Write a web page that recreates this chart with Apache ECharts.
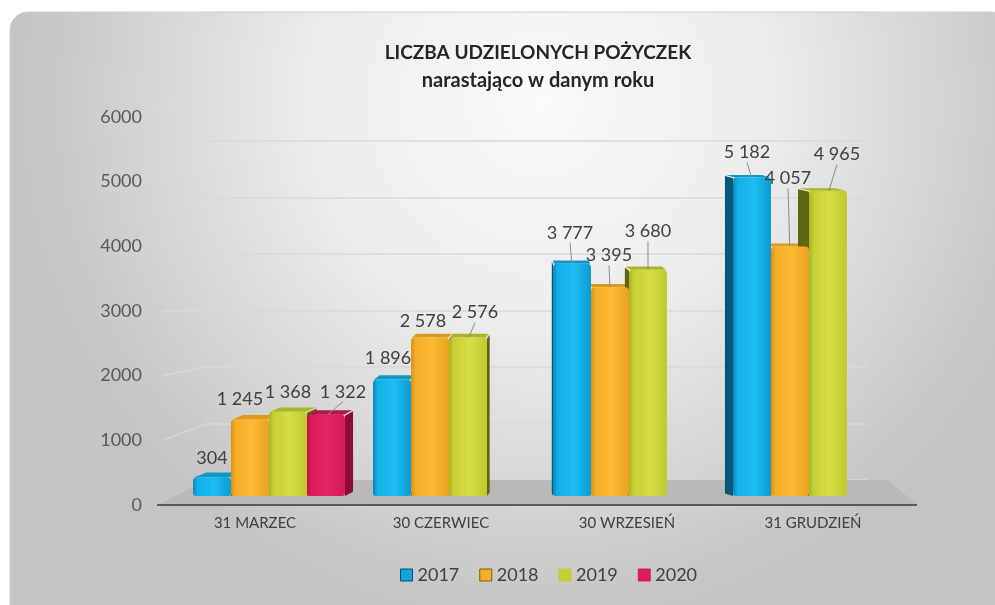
<!DOCTYPE html>
<html>
<head>
<meta charset="utf-8">
<script src="https://cdn.jsdelivr.net/npm/echarts@6/dist/echarts.min.js"></script>
<style>
  html, body { margin: 0; padding: 0; background: #fff; }
  #chart { width: 995px; height: 605px; }
</style>
</head>
<body>
<div id="chart"></div>
<script>
// dane
const categories = ['31 MARZEC', '30 CZERWIEC', '30 WRZESIEŃ', '31 GRUDZIEŃ'];
const years = ['2017', '2018', '2019', '2020'];
const v2017 = [304, 1896, 3777, 5182];
const v2018 = [1245, 2578, 3395, 4057];
const v2019 = [1368, 2576, 3680, 4965];
const v2020 = [1322, null, null, null];
const yMax = 6000;
const yStep = 1000;

// przesunięcia etykiet wzgledem wierzchu słupka [dx, dy]
const labelShift = [
  [[0, -19], [-4, -21], [-2, -31], [-5, -25]],
  [[-10, -20], [-7, -16], [-1, -32], [-2, -68]],
  [[0, -20], [7, -25], [0, -38], [9, -36]],
  [[17, -23], [0, 0], [0, 0], [0, 0]]
];

// kolory: przód (gradient), bok, góra
const colors = [
  { front: ['#0985bb', '#12b0e8', '#1cbdf2', '#0a9bd2'], side: '#075878', top: '#1296c8', legend: '#0fa6de', border: '#0a4f70' },
  { front: ['#d99114', '#f4ad24', '#fcb934', '#eba21e'], side: '#a87410', top: '#dc9a1a', legend: '#f5ae26', border: '#7a5a10' },
  { front: ['#aab325', '#c6ce33', '#d6de45', '#c0c830'], side: '#5f6512', top: '#aab424', legend: '#c5cd34', border: '#c5cd34' },
  { front: ['#c0124c', '#dc1b5c', '#e32463', '#d61957'], side: '#8c0c36', top: '#b8134b', legend: '#dc1b5c', border: '#dc1b5c' }
];

function fmt(v) {
  return String(v).replace(/\B(?=(\d{3})+(?!\d))/g, ' ');
}

function makeRender(si) {
  return function (params, api) {
    var ci = api.value(0), v = api.value(1);
    var cs = params.coordSys;
    var top = api.coord([ci, v]);
    var base = api.coord([ci, 0]);
    var bw = api.size([1, 0])[0] * 0.211;
    var x0 = top[0] - 2 * bw + si * bw;
    var cx = x0 + bw / 2;
    var vp = cs.x + cs.width * 0.5;
    var d = (vp - cx) * 0.038;            // głębokość w poziomie
    var dy = -(5 - 3 * v / yMax);         // głębokość w pionie
    var ex = d > 0 ? x0 + bw : x0;
    var c = colors[si];
    var sh = labelShift[si][ci];
    var children = [
      {
        type: 'polygon', z2: 1,
        shape: { points: [[ex, top[1] + 1], [ex + d, top[1] + dy + 1], [ex + d, base[1] + dy], [ex, base[1]]] },
        style: { fill: c.side }
      },
      {
        type: 'polygon', z2: 1,
        shape: { points: [[x0 + 1, top[1]], [x0 + bw - 1, top[1]], [x0 + bw + d - 1, top[1] + dy], [x0 + d + 1, top[1] + dy]] },
        style: { fill: c.top }
      },
      {
        type: 'rect', z2: 2,
        shape: { x: x0, y: top[1], width: bw, height: base[1] - top[1], r: [4, 4, 3, 3] },
        style: {
          fill: new echarts.graphic.LinearGradient(0, 0, 1, 0, [
            { offset: 0, color: c.front[0] },
            { offset: 0.12, color: c.front[1] },
            { offset: 0.55, color: c.front[2] },
            { offset: 1, color: c.front[3] }
          ])
        }
      }
    ];
    if (sh[1] <= -23) {
      children.push({
        type: 'line', z2: 4,
        shape: { x1: cx + sh[0] * 0.1, y1: top[1], x2: cx + sh[0], y2: top[1] + sh[1] + 10 },
        style: { stroke: '#8c8c8c', lineWidth: 1 }
      });
    }
    children.push({
      type: 'text', z2: 5,
      style: {
        text: fmt(v), x: cx + sh[0], y: top[1] + sh[1],
        align: 'center', verticalAlign: 'middle',
        font: '18px Lato', fill: '#404040'
      }
    });
    return { type: 'group', children: children };
  };
}

var chart = echarts.init(document.getElementById('chart'));

var seriesValues = [v2017, v2018, v2019, v2020];
var series = seriesValues.map(function (vals, si) {
  return {
    name: years[si],
    type: 'custom',
    xAxisIndex: 1,
    yAxisIndex: 1,
    renderItem: makeRender(si),
    clip: false,
    z: 3,
    itemStyle: { color: colors[si].legend },
    encode: { x: 0, y: 1 },
    data: vals.map(function (v, i) { return v == null ? null : [i, v]; })
      .filter(function (d) { return d != null; })
  };
});

var option = {
  animation: false,
  backgroundColor: '#ffffff',
  title: {
    text: '{a|LICZBA UDZIELONYCH POŻYCZEK}\n{b|narastająco w danym roku}',
    left: 533,
    textAlign: 'center',
    top: 34,
    textStyle: {
      rich: {
        a: { fontFamily: 'Lato', fontWeight: 'bold', fontSize: 19, color: '#262626', lineHeight: 28 },
        b: { fontFamily: 'Lato', fontWeight: 'bold', fontSize: 20, color: '#262626', lineHeight: 28 }
      }
    }
  },
  legend: {
    left: 395,
    top: 561,
    icon: 'rect',
    itemWidth: 12,
    itemHeight: 12,
    itemGap: 20,
    textStyle: { fontFamily: 'Lato', fontSize: 18, color: '#404040' },
    data: years.map(function (y, i) {
      return { name: y, itemStyle: { color: colors[i].legend, borderColor: colors[i].border, borderWidth: 1 } };
    })
  },
  grid: [
    { left: 162, right: 89, top: 117, bottom: 100 },   // etykiety (przód)
    { left: 179, right: 96, top: 127, bottom: 109 },   // słupki
    { left: 207, right: 127, top: 141, bottom: 125 }   // tylna ściana
  ],
  xAxis: [
    {
      gridIndex: 0, type: 'category', data: categories,
      axisLine: { show: false }, axisTick: { show: false },
      axisLabel: { margin: 11, fontFamily: 'Lato', fontSize: 15, color: '#404040' }
    },
    { gridIndex: 1, type: 'category', data: categories, show: false },
    { gridIndex: 2, type: 'category', data: categories, show: false }
  ],
  yAxis: [
    {
      gridIndex: 0, type: 'value', min: 0, max: yMax, interval: yStep,
      axisLine: { show: false }, axisTick: { show: false }, splitLine: { show: false },
      axisLabel: { margin: 20, fontFamily: 'Lato', fontSize: 18, color: '#595959', formatter: function (v) { return String(v); } }
    },
    { gridIndex: 1, type: 'value', min: 0, max: yMax, interval: yStep, show: false },
    {
      gridIndex: 2, type: 'value', min: 0, max: yMax, interval: yStep,
      axisLine: { show: false }, axisTick: { show: false }, axisLabel: { show: false },
      splitLine: { show: true, lineStyle: { color: '#d9d9d9', width: 1.5 } }
    }
  ],
  series: series
};

chart.setOption(option);

// tło, podłoga i skośne linie siatki
var graphics = [{
  type: 'rect', z: -10,
  shape: { x: 10, y: 12, width: 1000, height: 610, r: 18 },
  style: {
    fill: new echarts.graphic.RadialGradient(0.53, 0.15, 0.85, [
      { offset: 0, color: '#fbfbfb' },
      { offset: 0.45, color: '#ebebeb' },
      { offset: 1, color: '#c4c4c4' }
    ]),
    stroke: '#cfcfcf', lineWidth: 1
  }
}];
var frontY0 = chart.convertToPixel({ yAxisIndex: 0 }, 0);
var backY0 = chart.convertToPixel({ yAxisIndex: 2 }, 0);
for (var t = yStep; t <= yMax; t += yStep) {
  graphics.push({
    type: 'line', z: 0,
    shape: {
      x1: 162, y1: chart.convertToPixel({ yAxisIndex: 0 }, t),
      x2: 207, y2: chart.convertToPixel({ yAxisIndex: 2 }, t)
    },
    style: { stroke: '#d9d9d9', lineWidth: 1.5 }
  });
}
graphics.push({
  type: 'polygon', z: 1,
  shape: { points: [[157, frontY0], [207, backY0], [888, backY0], [917, frontY0]] },
  style: { fill: '#b9b9b9' }
});
graphics.push({
  type: 'line', z: 1,
  shape: { x1: 157, y1: frontY0, x2: 917, y2: frontY0 },
  style: { stroke: '#595959', lineWidth: 2 }
});
chart.setOption({ graphic: graphics });
</script>
</body>
</html>
